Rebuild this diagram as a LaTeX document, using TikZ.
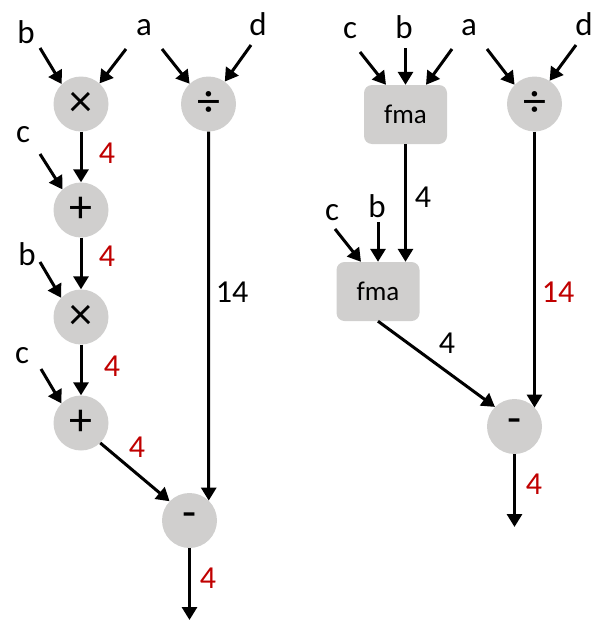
\documentclass[tikz,border=0pt]{standalone}
\usepackage{fontspec}
\setmainfont{Carlito}
\usetikzlibrary{arrows.meta}
\definecolor{opfill}{RGB}{208,207,206}
\definecolor{countred}{RGB}{192,0,0}
\begin{document}
\begin{tikzpicture}[x=1pt,y=-1pt,
  op/.style={circle,fill=opfill,minimum size=55pt,inner sep=0pt,font=\fontsize{46}{46}\selectfont},
  fmabox/.style={rectangle,rounded corners=8pt,fill=opfill,minimum width=83pt,minimum height=59pt,inner sep=0pt,font=\fontsize{27}{27}\selectfont},
  var/.style={anchor=base,inner sep=0pt,font=\fontsize{33}{33}\selectfont},
  cnt/.style={anchor=base,inner sep=0pt,font=\fontsize{32}{32}\selectfont},
  hotcnt/.style={cnt,text=countred},
  flow/.style={line width=3pt,-{Triangle[length=13pt,width=15pt]}},
]
\useasboundingbox (0,0) rectangle (594,624);

% ---------- left graph: separate multiply and add ----------
\node[op] (m1) at (81,104) {×};
\node[op] (dl) at (208.5,104) {÷};
\node[op] (p1) at (81,210) {+};
\node[op] (m2) at (81,317) {×};
\node[op] (p2) at (81,423) {+};
\node[op] (ml) at (189.5,520.5) {-};

\node[var] (lb1) at (26,43) {b};
\node[var] (la)  at (144,35) {a};
\node[var] (ld)  at (258,35) {d};
\node[var] (lc1) at (23,142) {c};
\node[var] (lb2) at (27,265) {b};
\node[var] (lc2) at (22,363) {c};

\coordinate (sb1) at (40,48);
\coordinate (sa1) at (126,49);
\coordinate (sa2) at (162,49);
\coordinate (sd)  at (251,45);
\coordinate (sc1) at (40,154);
\coordinate (sb2) at (40,262);
\coordinate (sc2) at (41,369);
\coordinate (outl) at (189.5,620);

\draw[flow] (sb1) -- (m1.134);
\draw[flow] (sa1) -- (m1.48);
\draw[flow] (sa2) -- (dl.133);
\draw[flow] (sd)  -- (dl.54);
\draw[flow] (m1.south) -- (p1.north);
\draw[flow] (sc1) -- (p1.132);
\draw[flow] (p1.south) -- (m2.north);
\draw[flow] (sb2) -- (m2.136);
\draw[flow] (m2.south) -- (p2.north);
\draw[flow] (sc2) -- (p2.135);
\draw[flow] (p2.-46) -- (ml.136);
\draw[flow] (dl.south) -- (ml.46);
\draw[flow] (ml.south) -- (outl);

\node[hotcnt] (n1) at (107,163) {4};
\node[hotcnt] (n2) at (107,266) {4};
\node[hotcnt] (n3) at (112,376) {4};
\node[hotcnt] (n4) at (137,457) {4};
\node[hotcnt] (n5) at (208,588) {4};
\node[cnt]    (n6) at (232,302) {14};

% ---------- right graph: fused multiply-add ----------
\node[fmabox] (f1) at (405.5,114.5) {fma};
\node[op] (dr) at (534.5,104) {÷};
\node[fmabox] (f2) at (378,291.5) {fma};
\node[op] (mr) at (514.5,426.5) {-};

\node[var] (rc1) at (350,38) {c};
\node[var] (rb1) at (404,38) {b};
\node[var] (ra)  at (469,35) {a};
\node[var] (rd)  at (584,35) {d};
\node[var] (rc2) at (332,220) {c};
\node[var] (rb2) at (377,217) {b};

\coordinate (tc1) at (360,52);
\coordinate (tb1) at (405.5,48);
\coordinate (ta1) at (452,49);
\coordinate (ta2) at (487,49);
\coordinate (td)  at (576,45);
\coordinate (tc2) at (335,229);
\coordinate (tb2) at (378,222);
\coordinate (outr) at (514.5,527);

\draw[flow] (tc1) -- ([xshift=-19.5pt]f1.north);
\draw[flow] (tb1) -- (f1.north);
\draw[flow] (ta1) -- ([xshift=20.5pt]f1.north);
\draw[flow] (ta2) -- (dr.136);
\draw[flow] (td)  -- (dr.57);
\draw[flow] (f1.south) -- (f1.south |- f2.north);
\draw[flow] (tc2) -- ([xshift=-17pt]f2.north);
\draw[flow] (tb2) -- (f2.north);
\draw[flow] (f2.south) -- (mr.135);
\draw[flow] (dr.south) -- (dr.south |- mr.43);
\draw[flow] (mr.south) -- (outr);

\node[cnt]    (r1) at (423,207) {4};
\node[hotcnt] (r2) at (558,302) {14};
\node[cnt]    (r3) at (447,353) {4};
\node[hotcnt] (r4) at (534,494) {4};
\end{tikzpicture}
\end{document}
